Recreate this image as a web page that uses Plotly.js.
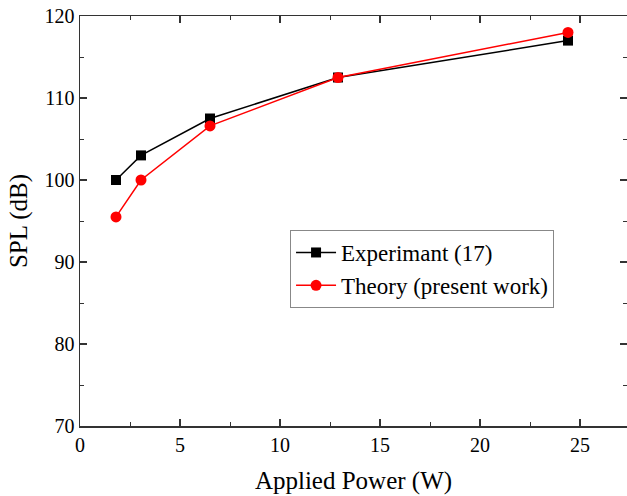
<!DOCTYPE html>
<html>
<head>
<meta charset="utf-8">
<script src="https://cdn.plot.ly/plotly-3.0.1.min.js"></script>
<style>html,body{margin:0;padding:0;background:#fff;}</style>
</head>
<body>
<div id="chart" style="width:627px;height:496px;"></div>
<script>
const powerW = [1.8, 3.05, 6.5, 12.9, 24.4];
const splExperiment = [100, 103, 107.5, 112.5, 117];
const splTheory = [95.5, 100, 106.6, 112.5, 118];
const seriesNames = ["Experimant (17)", "Theory (present work)"];

const font = 'Liberation Serif, Tinos, DejaVu Serif';

const traces = [
  {
    x: powerW, y: splExperiment, name: seriesNames[0], mode: "lines+markers",
    line: {color: "#000000", width: 1.5},
    marker: {symbol: "square", size: 10, color: "#000000"}
  },
  {
    x: powerW, y: splTheory, name: seriesNames[1], mode: "lines+markers",
    line: {color: "#ff0000", width: 1.5},
    marker: {symbol: "circle", size: 11, color: "#ff0000"}
  }
];

const axisCommon = {
  showgrid: false, zeroline: false, showline: true, linecolor: "#333", linewidth: 1.5,
  mirror: "allticks", ticks: "inside", ticklen: 7, tickwidth: 1.2, tickcolor: "#333",
  tickfont: {family: font, size: 20, color: "#000"}
};

const layout = {
  width: 627, height: 496,
  margin: {l: 80, r: 0, t: 16, b: 70},
  paper_bgcolor: "#fff", plot_bgcolor: "#fff",
  font: {family: font, color: "#000"},
  xaxis: Object.assign({}, axisCommon, {
    range: [0, 27.35], dtick: 5, tick0: 0,
    minor: {dtick: 2.5, ticks: "inside", ticklen: 4, tickcolor: "#333", tickwidth: 1},
    title: {text: "Applied Power (W)", font: {family: font, size: 25}, standoff: 17}
  }),
  yaxis: Object.assign({}, axisCommon, {
    range: [70, 120], dtick: 10, tick0: 70,
    minor: {dtick: 5, ticks: "inside", ticklen: 4, tickcolor: "#333", tickwidth: 1},
    title: {text: "SPL (dB)", font: {family: font, size: 25}, standoff: 10}
  }),
  legend: {
    x: 0.384, y: 0.478, xanchor: "left", yanchor: "top",
    bgcolor: "#fff", bordercolor: "#888", borderwidth: 1,
    font: {family: font, size: 23}, tracegroupgap: 0, itemwidth: 40
  },
  showlegend: true
};

Plotly.newPlot("chart", traces, layout, {displayModeBar: false, staticPlot: true});
</script>
</body>
</html>
